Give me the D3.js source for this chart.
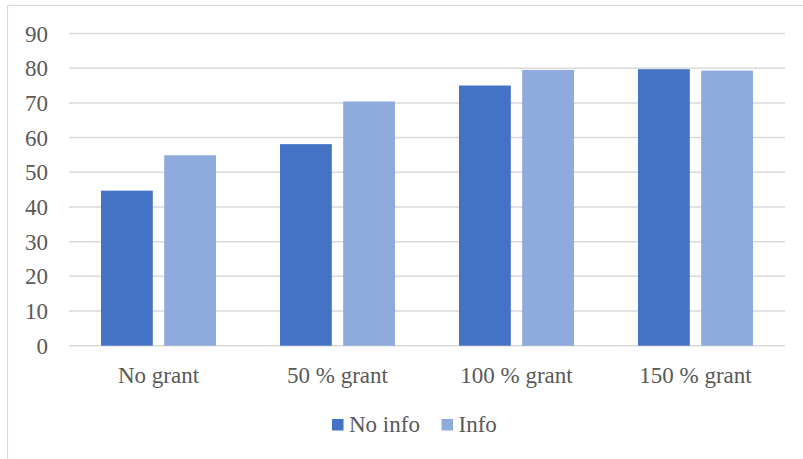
<!DOCTYPE html>
<html>
<head>
<meta charset="utf-8">
<script src="https://cdn.jsdelivr.net/npm/d3@7"></script>
<style>
  body { margin: 0; background: #fff; }
</style>
</head>
<body>
<div id="chart"></div>
<script>
var categories = ["No grant", "50 % grant", "100 % grant", "150 % grant"];
var seriesNames = ["No info", "Info"];
var noInfo = [44.7, 58.1, 75.0, 79.7];
var info = [54.9, 70.4, 79.5, 79.3];
var yTicks = [0, 10, 20, 30, 40, 50, 60, 70, 80, 90];
var colors = ["#4472C4", "#8FAADC"];

var W = 803, H = 459;
var FONT = "'Liberation Serif', 'DejaVu Serif', 'Times New Roman', serif";
var margin = {top: 33.5, right: 18, bottom: 113.3, left: 69},
    width = W - margin.left - margin.right,
    height = H - margin.top - margin.bottom;

var svg = d3.select("#chart").append("svg")
    .attr("width", W)
    .attr("height", H);

// outer chart border (right/bottom fall outside the picture)
svg.append("rect")
    .attr("x", 7.5).attr("y", 5.5)
    .attr("width", W).attr("height", H)
    .attr("fill", "none")
    .attr("stroke", "#D9D9D9")
    .attr("stroke-width", 1.2);

var g = svg.append("g")
    .attr("transform", "translate(" + margin.left + "," + margin.top + ")");

var x = d3.scaleBand().domain(categories).range([0, width]).paddingInner(0).paddingOuter(0);
var x1 = d3.scaleBand().domain(seriesNames).range([32, x.bandwidth() - 32]).paddingInner(0.18);
var y = d3.scaleLinear().domain([0, 90]).range([height, 0]);

// gridlines
g.selectAll(".grid")
    .data(yTicks)
  .enter().append("line")
    .attr("x1", 0).attr("x2", width)
    .attr("y1", function(d) { return y(d); })
    .attr("y2", function(d) { return y(d); })
    .attr("stroke", "#D9D9D9")
    .attr("stroke-width", 1.5);

// y labels
g.selectAll(".ylab")
    .data(yTicks)
  .enter().append("text")
    .attr("x", -21)
    .attr("y", function(d) { return y(d); })
    .attr("dy", "0.35em")
    .attr("text-anchor", "end")
    .attr("font-family", FONT)
    .attr("font-size", 23)
    .attr("fill", "#595959")
    .text(function(d) { return d; });

// bars
var series = [noInfo, info];
series.forEach(function(vals, si) {
  g.selectAll(".bar" + si)
      .data(vals)
    .enter().append("rect")
      .attr("x", function(d, i) { return x(categories[i]) + x1(seriesNames[si]); })
      .attr("width", x1.bandwidth())
      .attr("y", function(d) { return y(d); })
      .attr("height", function(d) { return height - y(d); })
      .attr("fill", colors[si]);
});

// x labels
g.selectAll(".xlab")
    .data(categories)
  .enter().append("text")
    .attr("x", function(d) { return x(d) + x.bandwidth() / 2; })
    .attr("y", height + 37)
    .attr("text-anchor", "middle")
    .attr("font-family", FONT)
    .attr("font-size", 23)
    .attr("fill", "#595959")
    .text(function(d) { return d; });

// legend
var legX = [332, 441.5];
var leg = svg.selectAll(".leg")
    .data(seriesNames)
  .enter().append("g")
    .attr("transform", function(d, i) { return "translate(" + legX[i] + ",419)"; });
leg.append("rect")
    .attr("width", 11.5).attr("height", 11.5)
    .attr("fill", function(d, i) { return colors[i]; });
leg.append("text")
    .attr("x", 17)
    .attr("y", 13)
    .attr("font-family", FONT)
    .attr("font-size", 23)
    .attr("fill", "#595959")
    .text(function(d) { return d; });
</script>
</body>
</html>
